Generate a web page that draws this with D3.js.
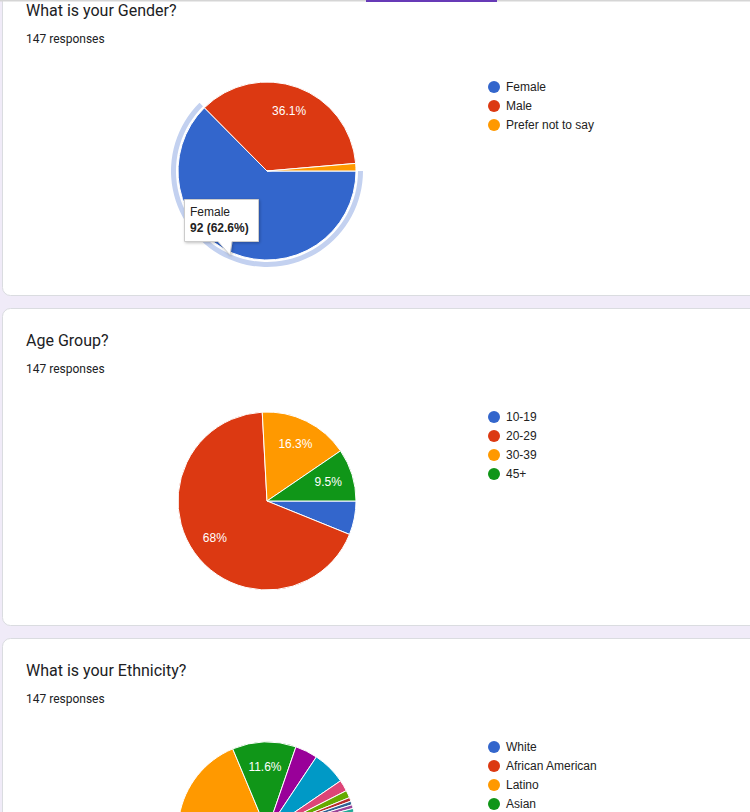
<!DOCTYPE html>
<html>
<head>
<meta charset="utf-8">
<script src="https://cdn.jsdelivr.net/npm/d3@7"></script>
<style>
  html, body { margin: 0; padding: 0; background: #f0ebf8; overflow: hidden; }
  svg { display: block; }
  .title { font-family: Roboto, "Noto Sans", sans-serif; font-size: 16px; fill: #202124; }
  .sub { font-family: Roboto, "Noto Sans", sans-serif; font-size: 12px; fill: #202124; }
  .legend text, .tip text { font-family: "Liberation Sans", Arial, sans-serif; font-size: 12px; fill: #222; }
  .slice-label { font-family: "Liberation Sans", Arial, sans-serif; font-size: 12px; fill: #fff; }
</style>
</head>
<body>
<div id="chart"></div>
<script>
// Data
const total = 147;

const genderLabels = ['Female', 'Male', 'Prefer not to say'];
const genderCounts = [92, 53, 2];

const ageLabels = ['10-19', '20-29', '30-39', '45+'];
const ageCounts = [9, 100, 24, 14];

const ethnicityLabels = ['White', 'African American', 'Latino', 'Asian', 'Middle Eastern',
    'Mixed', 'Native American', 'Pacific Islander', 'Caribbean', 'South Asian', 'Filipino',
    'Indigenous', 'Other', 'European', 'Jewish', 'North African', 'Prefer not to say'];
const ethnicityCounts = [31, 23, 47, 17, 6, 9, 3, 2, 1, 1, 1, 1, 1, 1, 1, 1, 1];

const questions = [
    { title: 'What is your Gender?', labels: genderLabels, counts: genderCounts, hover: 0 },
    { title: 'Age Group?', labels: ageLabels, counts: ageCounts },
    { title: 'What is your Ethnicity?', labels: ethnicityLabels, counts: ethnicityCounts }
];

// Google chart palette
const palette = ['#3366cc', '#dc3912', '#ff9900', '#109618', '#990099', '#0099c6', '#dd4477',
    '#66aa00', '#b82e2e', '#316395', '#994499', '#22aa99', '#aaaa11', '#6633cc', '#e67300',
    '#8b0707', '#651067'];

// Layout
const config = {
    width: 750,
    height: 812,
    cardTop: -22,
    cardHeight: 317,
    cardGap: 13,
    radius: 89,
    pieX: 267,
    pieY: 193,
    legendX: 494,
    legendY: 109,
    legendStep: 19
};

const svg = d3.select('#chart')
    .append('svg')
    .attr('width', config.width)
    .attr('height', config.height);

const defs = svg.append('defs');
const shadow = defs.append('filter').attr('id', 'shadow')
    .attr('x', '-20%').attr('y', '-20%').attr('width', '150%').attr('height', '160%');
shadow.append('feDropShadow')
    .attr('dx', 1).attr('dy', 1).attr('stdDeviation', 1.5)
    .attr('flood-color', '#000').attr('flood-opacity', 0.25);

const pct = d3.format('.1~%');
const color = d3.scaleOrdinal().range(palette);

const pie = d3.pie()
    .sort(null)
    .startAngle(Math.PI / 2)
    .endAngle(Math.PI / 2 + 2 * Math.PI);

const arc = d3.arc().innerRadius(0).outerRadius(config.radius);
const labelArc = d3.arc().innerRadius(config.radius * 0.72).outerRadius(config.radius * 0.72);
const haloArc = d3.arc().innerRadius(config.radius + 2).outerRadius(config.radius + 7);

questions.forEach((q, qi) => {
    const top = config.cardTop + qi * (config.cardHeight + config.cardGap);
    const card = svg.append('g').attr('transform', `translate(0,${top})`);

    card.append('rect')
        .attr('x', 2.5).attr('y', 0.5)
        .attr('width', 820).attr('height', config.cardHeight)
        .attr('rx', 8)
        .attr('fill', '#fff')
        .attr('stroke', '#dadce0');

    card.append('text').attr('class', 'title')
        .attr('x', 26).attr('y', 38)
        .text(q.title);
    card.append('text').attr('class', 'sub')
        .attr('x', 26).attr('y', 65)
        .text(`${total} responses`);

    const arcs = pie(q.counts);
    const g = card.append('g')
        .attr('transform', `translate(${config.pieX},${config.pieY})`);

    // hover halo
    if (q.hover !== undefined) {
        g.append('path')
            .attr('d', haloArc(arcs[q.hover]))
            .attr('fill', '#c3d1f0');
    }

    g.selectAll('path.slice')
        .data(arcs)
        .join('path')
        .attr('class', 'slice')
        .attr('d', arc)
        .attr('fill', (d, i) => color(i))
        .attr('stroke', '#fff')
        .attr('stroke-width', 1);

    // percentage labels; the hovered slice's label sits under the tooltip
    const visibleTop = -top - config.pieY;
    const visibleBottom = config.height - top - config.pieY;
    g.selectAll('text')
        .data(arcs.filter(d => d.value / total > 0.07 && d.index !== q.hover)
            .filter(d => {
                const y = labelArc.centroid(d)[1];
                return y > visibleTop && y + 6 < visibleBottom;
            }))
        .join('text')
        .attr('class', 'slice-label')
        .attr('transform', d => `translate(${labelArc.centroid(d)})`)
        .attr('text-anchor', 'middle')
        .attr('dy', '0.35em')
        .text(d => pct(d.value / total));

    // legend (rows past the window edge are left out)
    const legend = card.append('g').attr('class', 'legend');
    const row = legend.selectAll('g')
        .data(q.labels.filter((d, i) => top + config.legendY + i * config.legendStep + 6 < config.height))
        .join('g')
        .attr('transform', (d, i) => `translate(${config.legendX},${config.legendY + i * config.legendStep})`);
    row.append('circle').attr('r', 6).attr('fill', (d, i) => color(i));
    row.append('text').attr('x', 12).attr('dy', '0.35em').text(d => d);

    // tooltip of hovered slice
    if (q.hover !== undefined) {
        const d = arcs[q.hover];
        const tip = card.append('g').attr('class', 'tip')
            .attr('transform', 'translate(184,221)');
        tip.append('path')
            .attr('d', 'M0.5,0.5H74.5V42.5H48L46,56L34,42.5H0.5Z')
            .attr('fill', '#fff')
            .attr('stroke', '#ccc')
            .attr('filter', 'url(#shadow)');
        tip.append('text').attr('x', 6).attr('y', 17).text(q.labels[q.hover]);
        tip.append('text').attr('x', 6).attr('y', 33)
            .style('font-weight', 'bold')
            .text(`${d.value} (${pct(d.value / total)})`);
    }
});

// top header edge
svg.append('rect').attr('x', 0).attr('y', 0).attr('width', config.width).attr('height', 1.5)
    .attr('fill', '#d5d5d5');
svg.append('rect').attr('x', 366).attr('y', 0).attr('width', 131).attr('height', 2)
    .attr('fill', '#673ab7');
</script>
</body>
</html>
